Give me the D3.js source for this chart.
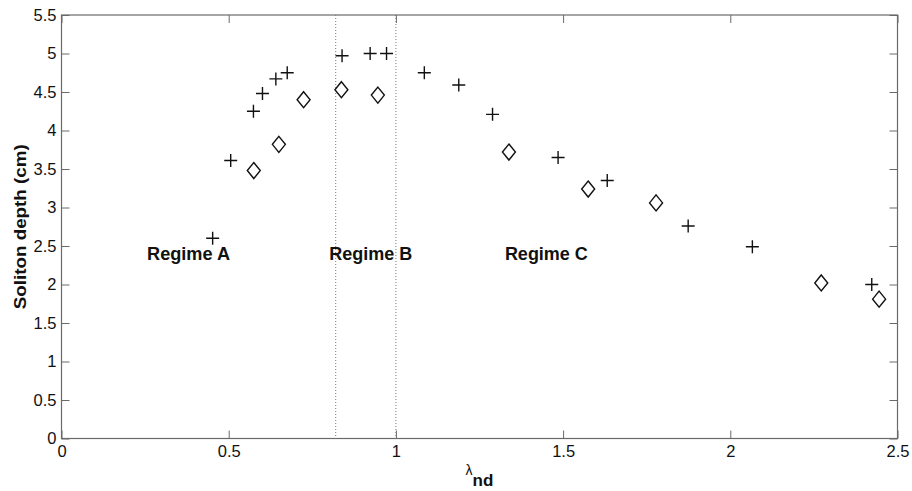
<!DOCTYPE html>
<html><head><meta charset="utf-8">
<script src="https://cdn.jsdelivr.net/npm/d3@7"></script>
<style>body{margin:0;background:#fff}svg{display:block}</style>
</head><body><svg id="c" width="912" height="491"></svg>
<script>
const plusX = [0.452,0.506,0.574,0.601,0.641,0.675,0.839,0.923,0.972,1.085,1.188,1.289,1.485,1.632,1.874,2.066,2.423];
const plusY = [2.60,3.61,4.25,4.48,4.67,4.75,4.97,5.00,5.00,4.75,4.59,4.21,3.65,3.35,2.76,2.49,2.00];
const diamX = [0.575,0.650,0.724,0.837,0.946,1.338,1.575,1.778,2.272,2.445];
const diamY = [3.48,3.82,4.40,4.53,4.46,3.72,3.24,3.06,2.02,1.81];
const regimeBounds = [0.82, 1.0];
const regimeNames = ["Regime A","Regime B","Regime C"];
const regimeX = [0.38, 0.925, 1.45];
const regimeY = 2.4;
const xTicks = [0,0.5,1,1.5,2,2.5];
const yTicks = [0,0.5,1,1.5,2,2.5,3,3.5,4,4.5,5,5.5];

const L=61.5,R=897.5,T=15,B=438.5;
const svg=d3.select("#c");
const x=d3.scaleLinear().domain([0,2.5]).range([L,R]);
const y=d3.scaleLinear().domain([0,5.5]).range([B,T]);
const font="'Liberation Sans', Arial, Helvetica, sans-serif";
const axisCol="#6a6a6a";

function styleAxis(g){
  g.select(".domain").remove();
  g.selectAll(".tick line").attr("stroke",axisCol).attr("stroke-width",1);
  g.selectAll(".tick text").attr("fill","#111").style("font-family",font).style("font-size","16.5px");
}
const fmt=d=>String(d);
svg.append("g").attr("transform",`translate(0,${B})`)
  .call(d3.axisBottom(x).tickValues(xTicks).tickFormat(fmt).tickSizeInner(-8).tickSizeOuter(0).tickPadding(7))
  .call(styleAxis);
svg.append("g").attr("transform",`translate(${L},0)`)
  .call(d3.axisLeft(y).tickValues(yTicks).tickFormat(fmt).tickSizeInner(-8).tickSizeOuter(0).tickPadding(5))
  .call(styleAxis);
svg.append("g").attr("transform",`translate(0,${T})`)
  .call(d3.axisTop(x).tickValues(xTicks).tickFormat("").tickSizeInner(-8).tickSizeOuter(0))
  .call(styleAxis);
svg.append("g").attr("transform",`translate(${R},0)`)
  .call(d3.axisRight(y).tickValues(yTicks).tickFormat("").tickSizeInner(-8).tickSizeOuter(0))
  .call(styleAxis);

svg.append("rect").attr("x",L).attr("y",T).attr("width",R-L).attr("height",B-T)
  .attr("fill","none").attr("stroke",axisCol).attr("stroke-width",1.2);

// regime boundaries
svg.selectAll(".bound").data(regimeBounds).enter().append("line")
  .attr("x1",d=>x(d)).attr("x2",d=>x(d)).attr("y1",T).attr("y2",B)
  .attr("stroke","#777").attr("stroke-width",1).attr("stroke-dasharray","1,2");

// regime labels
svg.selectAll(".reg").data(regimeNames).enter().append("text")
  .attr("x",(d,i)=>x(regimeX[i])).attr("y",y(regimeY)+6)
  .attr("text-anchor","middle").attr("fill","#111")
  .attr("textLength",83).attr("lengthAdjust","spacingAndGlyphs")
  .style("font-family",font).style("font-size","18px").style("font-weight","bold")
  .text(d=>d);

// plus markers
const s=6.5;
const plusData=plusX.map((v,i)=>[v,plusY[i]]);
svg.append("g").selectAll("path").data(plusData).enter().append("path")
  .attr("d",d=>{const cx=x(d[0]),cy=y(d[1]);return `M${cx-s},${cy}H${cx+s}M${cx},${cy-s}V${cy+s}`;})
  .attr("stroke","#111").attr("stroke-width",1.4).attr("fill","none");

// diamond markers
const dw=6.5, dh=8;
const diamData=diamX.map((v,i)=>[v,diamY[i]]);
svg.append("g").selectAll("path").data(diamData).enter().append("path")
  .attr("d",d=>{const cx=x(d[0]),cy=y(d[1]);return `M${cx},${cy-dh}L${cx+dw},${cy}L${cx},${cy+dh}L${cx-dw},${cy}Z`;})
  .attr("stroke","#111").attr("stroke-width",1.4).attr("fill","none");

// y label
svg.append("text").attr("transform",`translate(26,${(T+B)/2}) rotate(-90)`)
  .attr("text-anchor","middle").attr("fill","#111")
  .attr("textLength",165).attr("lengthAdjust","spacingAndGlyphs")
  .style("font-family",font).style("font-size","17px").style("font-weight","bold")
  .text("Soliton depth (cm)");

// x label
const xl=svg.append("text").attr("x",(L+R)/2).attr("y",475).attr("text-anchor","middle").attr("fill","#111").style("font-family",font);
xl.append("tspan").style("font-size","14px").text("λ");
xl.append("tspan").attr("dy",11).style("font-size","17px").style("font-weight","bold").text("nd");
</script></body></html>
